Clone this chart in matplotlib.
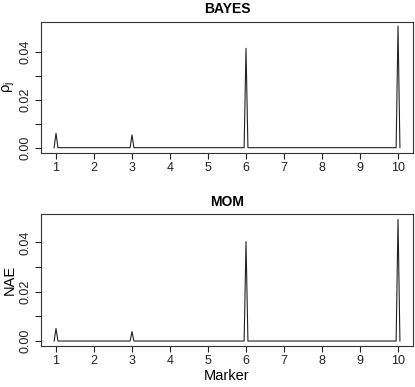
import matplotlib
matplotlib.use('Agg')
import matplotlib.pyplot as plt

plt.rcParams['font.family'] = ['Liberation Sans', 'DejaVu Sans']
plt.rcParams['mathtext.default'] = 'regular'

# line points along the marker axis (feet and tops of each spike)
marker_pos = [0.95, 1.0, 1.05, 2.95, 3.0, 3.05, 5.95, 6.0, 6.05, 9.95, 10.0, 10.05]
bayes_vals = [0, 0.0060, 0, 0, 0.0053, 0, 0, 0.0414, 0, 0, 0.0507, 0]
mom_vals = [0, 0.0051, 0, 0, 0.0038, 0, 0, 0.0403, 0, 0, 0.0493, 0]

x_ticks = [1, 2, 3, 4, 5, 6, 7, 8, 9, 10]
y_ticks = [0.0, 0.01, 0.02, 0.03, 0.04]
y_labels = ['0.00', '', '0.02', '', '0.04']


def draw_panel(ax, vals, title, ylabel, ylim, xlabel=None):
    ax.plot(marker_pos, vals, color='#222222', lw=0.8)
    ax.set_xlim(0.605, 10.39)
    ax.set_ylim(*ylim)
    ax.set_xticks(x_ticks)
    ax.set_xticklabels([str(t) for t in x_ticks])
    ax.set_yticks(y_ticks)
    ax.set_yticklabels(y_labels, rotation=90, va='center')
    ax.tick_params(length=4, width=0.8, pad=3, labelsize=9, colors='#222222')
    for s in ax.spines.values():
        s.set_linewidth(0.8)
        s.set_color('#333333')
    ax.set_title(title, fontsize=10, fontweight='bold', pad=6)
    ax.set_ylabel(ylabel, fontsize=10.5, labelpad=2)
    if xlabel:
        ax.set_xlabel(xlabel, fontsize=10.5, labelpad=1)


fig = plt.figure(figsize=(4.15, 3.87), dpi=100)
ax1 = fig.add_axes([0.0988, 0.6054, 0.896, 0.3385])
ax2 = fig.add_axes([0.0988, 0.1067, 0.896, 0.3395])

draw_panel(ax1, bayes_vals, 'BAYES', 'ρ$_j$', (-0.0021, 0.0525))
draw_panel(ax2, mom_vals, 'MOM', 'NAE', (-0.0019, 0.0514), xlabel='Marker')

plt.savefig('out.png', dpi=100)
plt.close('all')
